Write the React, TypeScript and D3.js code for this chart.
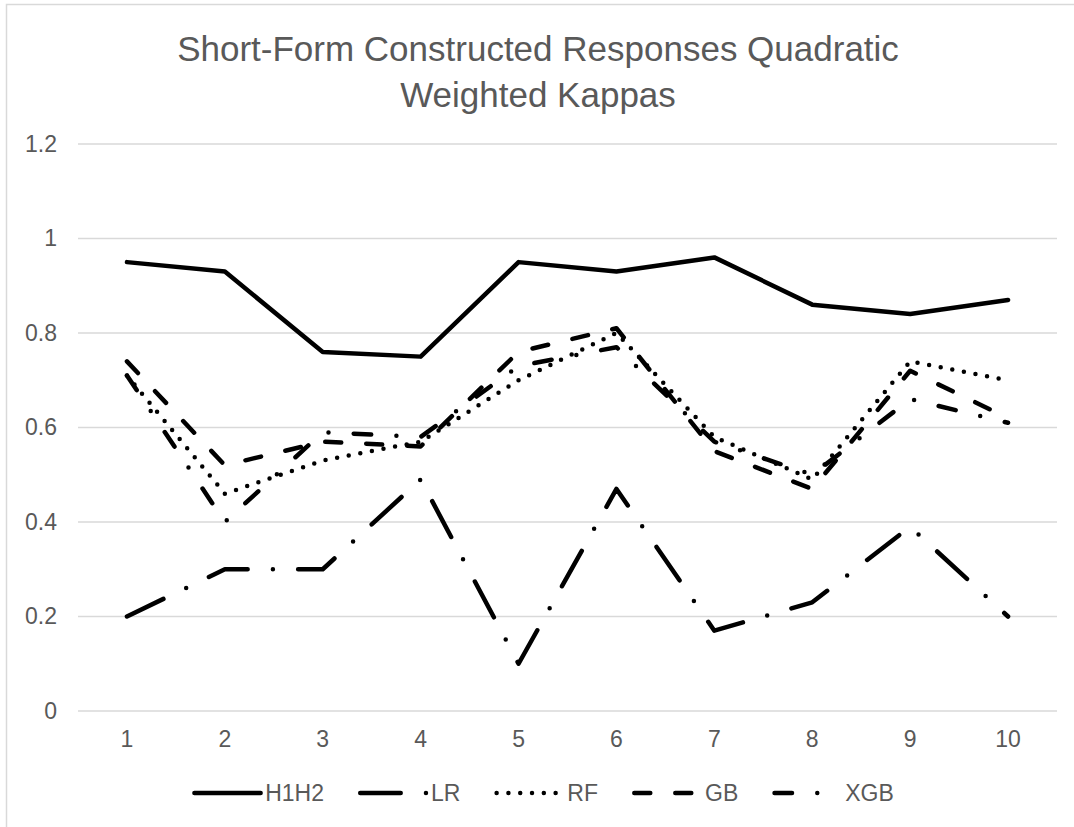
import React, { useRef, useEffect } from 'react';
import * as d3 from 'd3';

const categories = ['1', '2', '3', '4', '5', '6', '7', '8', '9', '10'];
const yTicks = [0, 0.2, 0.4, 0.6, 0.8, 1, 1.2];

const h1h2 = [0.95, 0.93, 0.76, 0.75, 0.95, 0.93, 0.96, 0.86, 0.84, 0.87];
const lr = [0.2, 0.3, 0.3, 0.49, 0.1, 0.47, 0.17, 0.23, 0.39, 0.2];
const rf = [0.71, 0.46, 0.53, 0.57, 0.7, 0.8, 0.58, 0.49, 0.74, 0.7];
const gb = [0.74, 0.52, 0.57, 0.56, 0.76, 0.81, 0.55, 0.47, 0.72, 0.62];
const xgb = [0.71, 0.4, 0.59, 0.58, 0.73, 0.77, 0.57, 0.5, 0.66, 0.61];

const seriesNames = ['H1H2', 'LR', 'RF', 'GB', 'XGB'];
const seriesValues = [h1h2, lr, rf, gb, xgb];

// dash patterns (round caps, so dash lengths are shortened by the stroke width)
const dashes = ['none', '40.5 25.25 0 25.25', '0 11.8', '16 25', '17.5 25.25 0 25.25'];

const App: React.FC = () => {
  const ref = useRef<SVGSVGElement | null>(null);

  useEffect(() => {
    if (!ref.current) return;
    const svg = d3.select(ref.current);
    svg.selectAll('*').remove();

    const width = 1074;
    const height = 827;
    const font = '"Liberation Sans", Arial, sans-serif';
    const textColor = '#595959';
    const gridColor = '#d9d9d9';
    const strokeW = 4.5;
    const labelSize = 23;

    // chart frame (right and bottom edges fall outside the picture)
    svg.append('path')
      .attr('d', `M6.5,${height} V4.5 H${width}`)
      .attr('fill', 'none')
      .attr('stroke', gridColor)
      .attr('stroke-width', 1.5);

    const x = d3.scaleBand<string>()
      .domain(categories)
      .range([78, 1057]);

    const y = d3.scaleLinear()
      .domain([0, 1.2])
      .range([711, 144]);

    // Title
    const title = svg.append('text')
      .attr('text-anchor', 'middle')
      .attr('font-family', font)
      .attr('font-size', 35)
      .attr('fill', textColor);
    title.append('tspan').attr('x', 538).attr('y', 61).text('Short-Form Constructed Responses Quadratic');
    title.append('tspan').attr('x', 538).attr('y', 107).text('Weighted Kappas');

    // Gridlines
    svg.append('g')
      .selectAll('line')
      .data(yTicks)
      .enter()
      .append('line')
      .attr('x1', 78)
      .attr('x2', 1057)
      .attr('y1', d => y(d))
      .attr('y2', d => y(d))
      .attr('stroke', gridColor)
      .attr('stroke-width', 1.5);

    // Y axis labels
    const yAxis = d3.axisLeft(y)
      .tickValues(yTicks)
      .tickSize(0)
      .tickPadding(21)
      .tickFormat(d => d3.format('')(+d));
    const gy = svg.append('g')
      .attr('transform', 'translate(78,0)')
      .call(yAxis);
    gy.select('.domain').remove();
    gy.attr('font-family', font).attr('font-size', labelSize);
    gy.selectAll('text').attr('fill', textColor);

    // X axis labels
    const xAxis = d3.axisBottom(x).tickSize(0).tickPadding(20);
    const gx = svg.append('g')
      .attr('transform', 'translate(0,711)')
      .call(xAxis);
    gx.select('.domain').remove();
    gx.attr('font-family', font).attr('font-size', labelSize);
    gx.selectAll('text').attr('fill', textColor);

    // Lines
    const cx = (i: number) => (x(categories[i]) as number) + x.bandwidth() / 2;
    const line = d3.line<number>()
      .x((_, i) => cx(i))
      .y(d => y(d));

    seriesValues.forEach((vals, k) => {
      svg.append('path')
        .datum(vals)
        .attr('fill', 'none')
        .attr('stroke', '#000')
        .attr('stroke-width', strokeW)
        .attr('stroke-linecap', 'round')
        .attr('stroke-linejoin', 'round')
        .attr('stroke-dasharray', dashes[k])
        .attr('d', line);
    });

    // Legend
    const sampleW = 70;
    const legendY = 793;
    const legend = svg.append('g');
    const items = seriesNames.map((name, k) => {
      const g = legend.append('g');
      g.append('line')
        .attr('x1', strokeW / 2)
        .attr('x2', sampleW - 1.5)
        .attr('y1', 0)
        .attr('y2', 0)
        .attr('stroke', '#000')
        .attr('stroke-width', strokeW)
        .attr('stroke-linecap', 'round')
        .attr('stroke-dasharray', dashes[k]);
      const t = g.append('text')
        .attr('x', sampleW + 3)
        .attr('y', 8)
        .attr('font-family', font)
        .attr('font-size', labelSize)
        .attr('fill', textColor)
        .text(name);
      const tw = (t.node() as SVGTextElement).getComputedTextLength();
      return { g, w: sampleW + 3 + tw };
    });
    const gap = 34;
    const total = d3.sum(items, d => d.w) + gap * (items.length - 1);
    let pos = 543 - total / 2;
    items.forEach(it => {
      it.g.attr('transform', `translate(${pos},${legendY})`);
      pos += it.w + gap;
    });
  }, []);

  return (
    <svg
      ref={ref}
      width={1074}
      height={827}
      style={{ position: 'absolute', left: 0, top: 0, background: '#fff' }}
    />
  );
};

export default App;
